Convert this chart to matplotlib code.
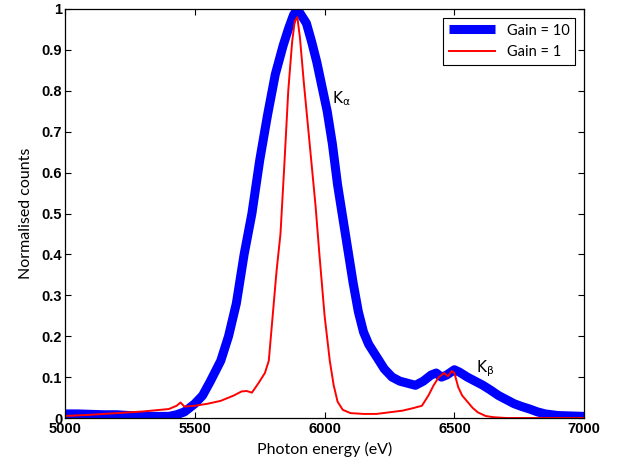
import matplotlib
matplotlib.use("Agg")
import matplotlib.pyplot as plt

# Gain = 10 spectrum
e_g10 = [5000, 5050, 5100, 5150, 5200, 5250, 5300, 5350, 5400, 5430, 5460, 5500,
         5530, 5560, 5600, 5630, 5660, 5690, 5720, 5750, 5780, 5810, 5840, 5860,
         5880, 5895, 5910, 5930, 5950, 5970, 5990, 6010, 6030, 6050, 6070, 6090,
         6110, 6130, 6150, 6170, 6200, 6230, 6260, 6290, 6320, 6350, 6380, 6410,
         6430, 6450, 6470, 6500, 6520, 6550, 6580, 6610, 6640, 6670, 6700, 6730,
         6760, 6790, 6820, 6850, 6900, 6950, 7000]
c_g10 = [0.010, 0.010, 0.009, 0.008, 0.008, 0.006, 0.005, 0.004, 0.004, 0.008, 0.015, 0.035,
         0.055, 0.09, 0.14, 0.20, 0.28, 0.40, 0.50, 0.63, 0.74, 0.84, 0.91, 0.95,
         0.985, 1.0, 0.985, 0.965, 0.92, 0.87, 0.81, 0.75, 0.67, 0.57, 0.49, 0.41,
         0.33, 0.26, 0.21, 0.18, 0.15, 0.12, 0.10, 0.09, 0.085, 0.08, 0.09, 0.105,
         0.11, 0.10, 0.105, 0.118, 0.112, 0.10, 0.09, 0.08, 0.068, 0.055, 0.045, 0.035,
         0.028, 0.022, 0.015, 0.01, 0.006, 0.005, 0.004]

# Gain = 1 spectrum
e_g1 = [5000, 5100, 5200, 5300, 5400, 5430, 5445, 5460, 5500, 5550, 5600, 5650,
        5680, 5700, 5720, 5745, 5770, 5785, 5800, 5815, 5830, 5845, 5860, 5875,
        5885, 5895, 5905, 5920, 5935, 5950, 5965, 5980, 6000, 6020, 6035, 6050,
        6070, 6100, 6150, 6200, 6250, 6300, 6340, 6375, 6400, 6420, 6440, 6460,
        6475, 6490, 6500, 6515, 6530, 6550, 6570, 6590, 6620, 6650, 6700, 7000]
c_g1 = [0.005, 0.008, 0.012, 0.016, 0.022, 0.03, 0.038, 0.028, 0.03, 0.035, 0.042, 0.055,
        0.065, 0.066, 0.062, 0.085, 0.11, 0.14, 0.25, 0.36, 0.45, 0.62, 0.80, 0.92,
        0.97, 0.98, 0.93, 0.82, 0.72, 0.62, 0.52, 0.40, 0.25, 0.14, 0.08, 0.04,
        0.02, 0.012, 0.01, 0.01, 0.014, 0.018, 0.024, 0.03, 0.055, 0.08, 0.10, 0.11,
        0.102, 0.115, 0.11, 0.075, 0.055, 0.04, 0.025, 0.014, 0.005, 0.002, 0.0, 0.0]

x_ticks = [5000, 5500, 6000, 6500, 7000]
y_ticks = [0, 0.1, 0.2, 0.3, 0.4, 0.5, 0.6, 0.7, 0.8, 0.9, 1]
y_labels = ["0", "0.1", "0.2", "0.3", "0.4", "0.5", "0.6", "0.7", "0.8", "0.9", "1"]

fig = plt.figure(figsize=(6.21, 4.68), dpi=100)
ax = fig.add_axes([0.1047, 0.1068, 0.836, 0.874])

ax.plot(e_g10, c_g10, color=(0, 0, 1), lw=6.5, solid_capstyle="butt", label="Gain = 10")
ax.plot(e_g1, c_g1, color=(1, 0, 0), lw=1.4, label="Gain = 1")

ax.set_xlim(5000, 7000)
ax.set_ylim(0, 1)
ax.set_xticks(x_ticks)
ax.set_yticks(y_ticks)
ax.set_yticklabels(y_labels)
for lab in ax.get_xticklabels() + ax.get_yticklabels():
    lab.set_fontfamily("Liberation Sans")
    lab.set_fontweight("bold")
    lab.set_fontsize(10.5)
ax.tick_params(direction="in", top=True, right=True, length=4, width=0.8, pad=2)
ax.tick_params(axis="x", pad=3)
for s in ax.spines.values():
    s.set_linewidth(0.9)

ax.set_xlabel("Photon energy (eV)", fontfamily="Lato", fontsize=11.5, labelpad=4)
ax.set_ylabel("Normalised counts", fontfamily="Lato", fontsize=11.5, labelpad=6)

ax.text(6030, 0.78, r"K$_\mathregular{\alpha}$", fontsize=11, fontfamily="DejaVu Sans",
        ha="left", va="center")
ax.text(6585, 0.12, r"K$_\mathregular{\beta}$", fontsize=11, fontfamily="DejaVu Sans",
        ha="left", va="center")

leg = ax.legend(loc="upper right", prop={"family": "Lato", "size": 10.5}, fancybox=False,
                edgecolor="black", handlelength=3.2, borderaxespad=0.6, framealpha=1)
leg.get_frame().set_linewidth(0.8)

fig.savefig("out.png", dpi=100)
